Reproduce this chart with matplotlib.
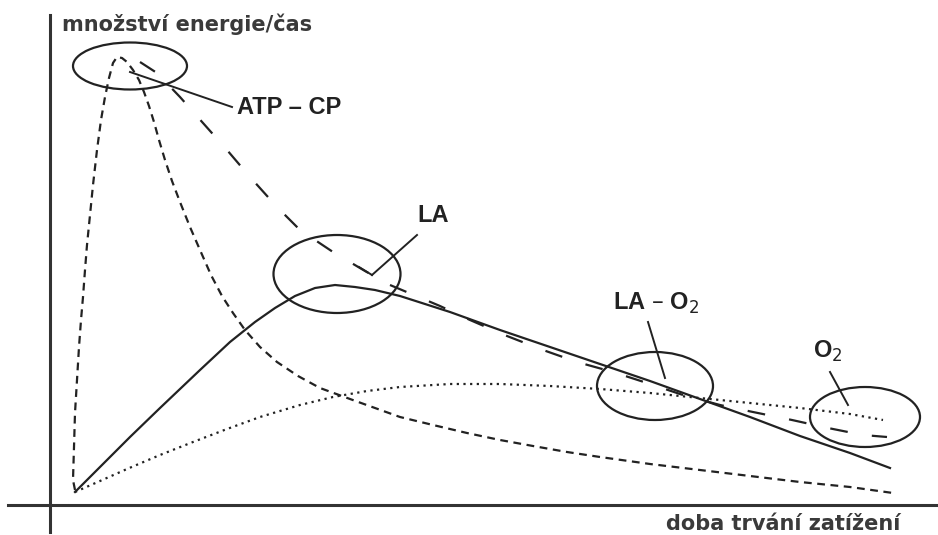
import matplotlib
matplotlib.use("Agg")
import matplotlib.pyplot as plt
from matplotlib.patches import Ellipse

plt.rcParams['font.family'] = ['Liberation Sans', 'DejaVu Sans']

# hodnoty (souradnice v pixelech, osa y shora dolu)
atp_x = [75, 73, 74, 75, 77, 79, 81, 83, 85, 87, 90, 93, 97, 101, 105, 109, 113, 117, 122, 127, 133, 139, 144, 149, 154, 159, 165,
         172, 180, 190, 200, 211, 222, 233, 245, 260, 277, 298, 320, 350, 375, 400, 433, 467, 500, 533, 567, 600, 650, 700, 750,
         800, 850, 893]
atp_y = [490, 480, 447, 413, 380, 347, 320, 297, 270, 245, 215, 185, 150, 120, 97, 78, 63, 57, 58, 62, 70, 80, 92, 106, 122, 140, 160,
         181, 202, 227, 250, 275, 296, 313, 330, 347, 362, 376, 388, 399, 408, 417, 425, 433, 440, 446, 452, 457, 464, 470, 476,
         482, 487, 493]

la_x = [75, 100, 130, 160, 200, 230, 255, 275, 295, 315, 335, 355, 375, 400, 450, 500, 550, 600, 650, 700, 750, 800, 850, 890]
la_y = [492, 467, 437, 408, 370, 342, 322, 308, 296, 288, 285, 287, 290, 296, 312, 330, 347, 364, 381, 399, 417, 436, 453, 468]

o2_x = [75, 100, 127, 160, 193, 227, 260, 300, 333, 367, 400, 450, 500, 550, 600, 650, 700, 750, 800, 850, 883]
o2_y = [492, 481, 469, 455, 442, 429, 417, 405, 397, 391, 387, 384, 384, 386, 389, 393, 398, 403, 408, 414, 420]

sum_x = [140, 157, 180, 203, 227, 250, 277, 300, 333, 365, 372]
sum_y = [62, 73, 97, 123, 150, 177, 207, 230, 252, 271, 275]
sum2_x = [390, 440, 470, 507, 543, 577, 613, 647, 683, 720, 753, 792, 828, 863, 887]
sum2_y = [285, 306, 320, 336, 350, 362, 372, 383, 395, 405, 412, 420, 428, 435, 437]

kruhy = [(130, 66, 114, 47), (337, 274, 127, 78), (655, 386, 116, 68), (865, 417, 110, 60)]

popisky = ["ATP – CP", "LA", "LA – O$_2$", "O$_2$"]
popisky_xy = [(237, 107), (417, 216), (613, 303), (813, 351)]
ukazatele = [[(130, 72), (232, 107)], [(417, 235), (372, 275)], [(648, 322), (665, 378)], [(830, 372), (848, 405)]]

c = '#222222'
fig = plt.figure(figsize=(9.38, 5.35), dpi=100)
ax = fig.add_axes([0, 0, 1, 1])
ax.set_xlim(0, 938)
ax.set_ylim(535, 0)
ax.axis('off')

# osy
ax.plot([50, 50], [15, 532], color='#333333', lw=2.2)
ax.plot([8, 938], [505, 505], color='#333333', lw=2.2)

ax.plot(atp_x, atp_y, color=c, lw=1.6, ls=(0, (3.5, 2.5)))
ax.plot(la_x, la_y, color=c, lw=1.6)
ax.plot(o2_x, o2_y, color=c, lw=1.6, ls=(0, (1, 2)))
ax.plot(sum_x, sum_y, color=c, lw=1.6, ls=(0, (8, 11)))
ax.plot(sum2_x, sum2_y, color=c, lw=1.6, ls=(0, (8, 11)))

for (cx, cy, w, h) in kruhy:
    ax.add_patch(Ellipse((cx, cy), w, h, fill=False, ec=c, lw=1.6))

for (p, q) in ukazatele:
    ax.plot([p[0], q[0]], [p[1], q[1]], color=c, lw=1.4)
ax.plot([372, 359], [275, 267], color=c, lw=1.4)

for t, (x, y) in zip(popisky, popisky_xy):
    ax.text(x, y, t, fontsize=17, fontweight='bold', color=c, ha='left', va='center')

ax.text(62, 31, "množství energie/čas", fontsize=15, family='DejaVu Sans', fontweight='bold',
        color='#3a3a3a', ha='left', va='baseline')
ax.text(900, 530, "doba trvání zatížení", fontsize=15, family='DejaVu Sans', fontweight='bold',
        color='#3a3a3a', ha='right', va='baseline')

fig.savefig('out.png', dpi=100)
